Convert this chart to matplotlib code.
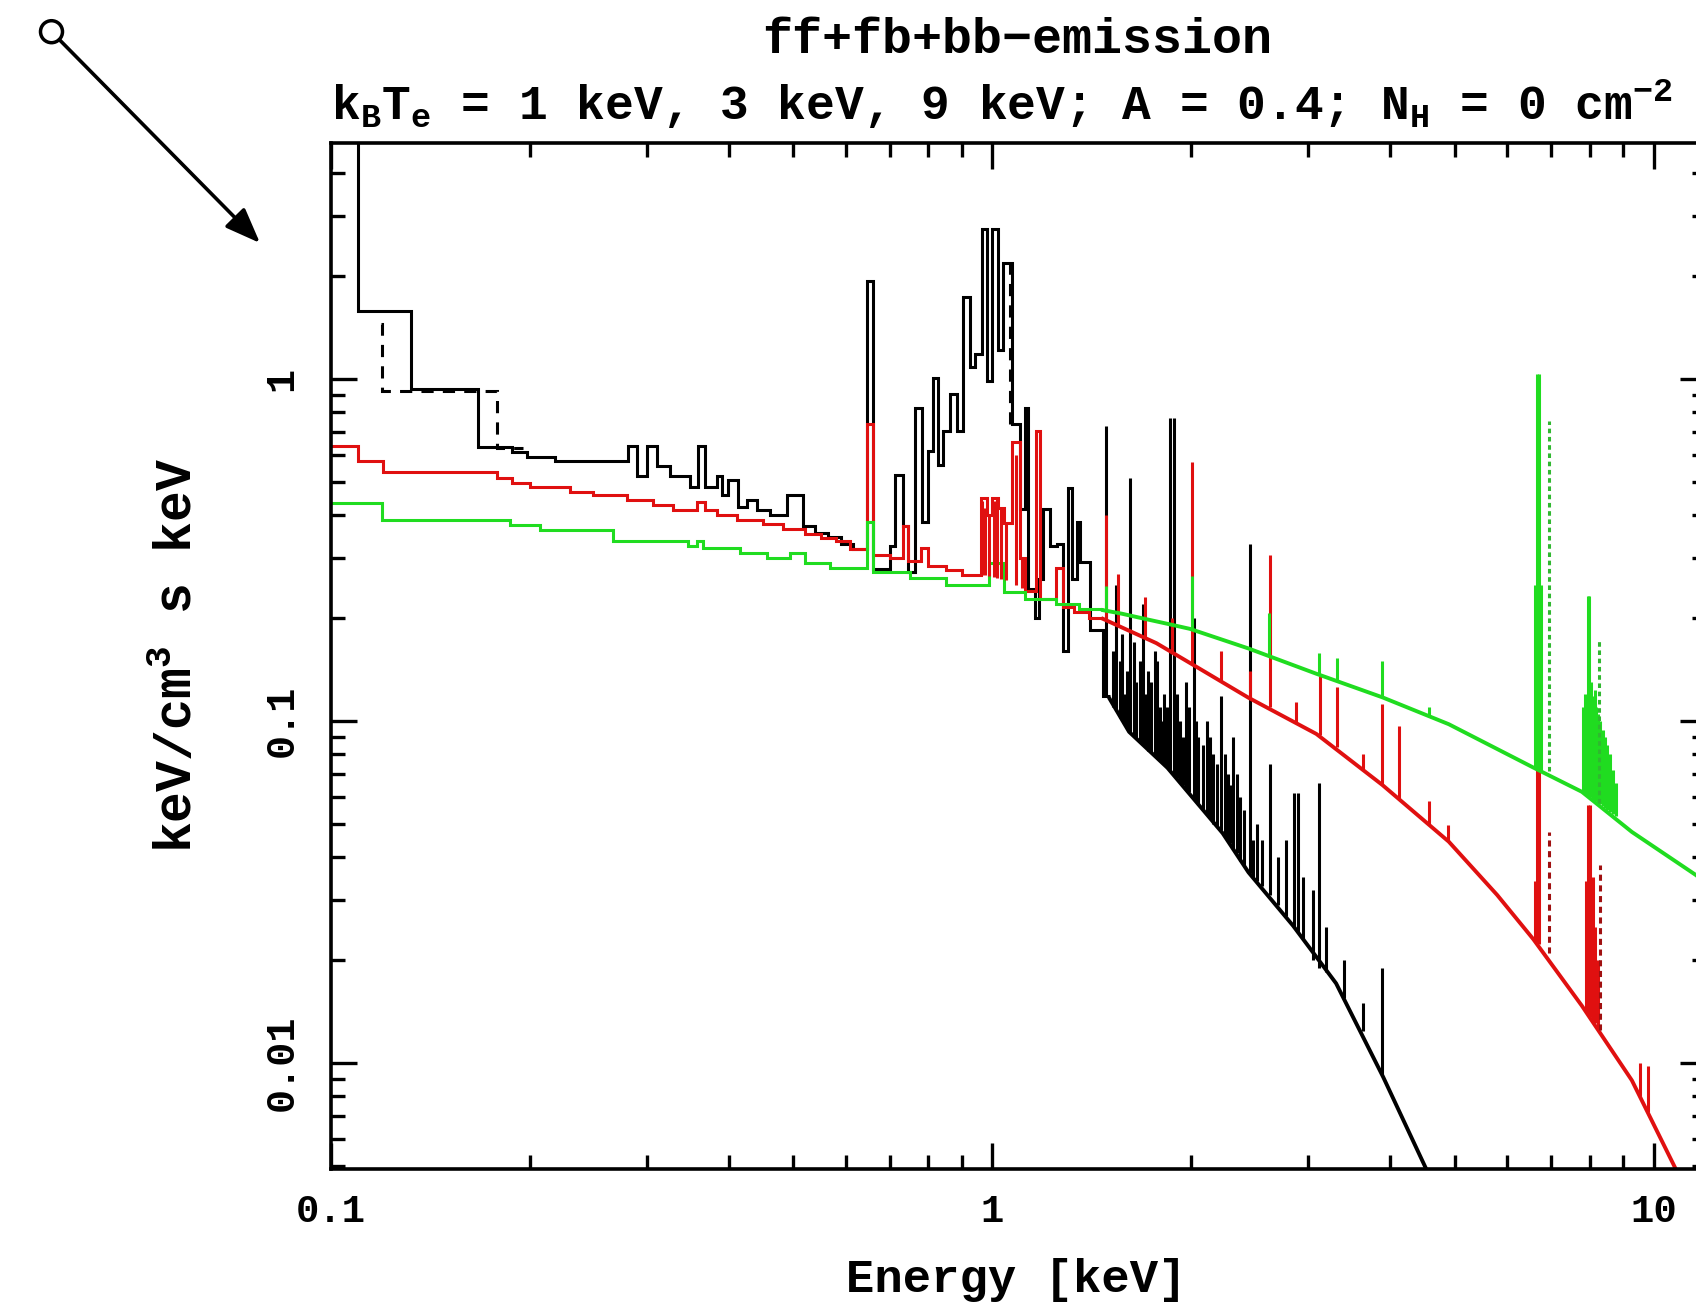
import matplotlib
matplotlib.use("Agg")
import matplotlib.pyplot as plt
from matplotlib.patches import Ellipse
from matplotlib.transforms import IdentityTransform
from matplotlib.ticker import FixedLocator, FixedFormatter, LogLocator, NullFormatter

plt.rcParams['font.family'] = ['Liberation Mono', 'DejaVu Sans Mono']
plt.rcParams['font.weight'] = 'bold'
plt.rcParams['mathtext.default'] = 'regular'

# ---------------- data: energy [keV], flux [keV/cm^3 s keV] ----------------
x_ticks = [0.1, 1, 10]
x_labels = ["0.1", "1", "10"]
y_ticks = [0.01, 0.1, 1]
y_labels = ["0.01", "0.1", "1"]

# kT = 1 keV (black): binned part
black_bin_e = [0.100, 0.1099, 0.1321, 0.1668, 0.1878, 0.1979, 0.2182, 0.2813, 0.2902, 0.3005,
               0.3111, 0.3254, 0.3489, 0.3587, 0.3676, 0.3832, 0.3901, 0.3983, 0.4124, 0.4255,
               0.4406, 0.4610, 0.4891, 0.5171, 0.540, 0.565, 0.590, 0.615, 0.6461, 0.6597,
               0.6998, 0.7123, 0.7323, 0.7451, 0.7633, 0.7823, 0.7989, 0.8130, 0.8272, 0.8418,
               0.8625, 0.8837, 0.9023, 0.9247, 0.9408, 0.9641, 0.9811, 0.9982, 1.0193, 1.0373,
               1.0703, 1.1005, 1.1199, 1.1317, 1.160, 1.175, 1.1921, 1.2216, 1.2517, 1.2782,
               1.3006, 1.3190, 1.3421, 1.3561, 1.4042, 1.4693, 1.5053]
black_bin_f = [8.0, 1.58, 0.934, 0.631, 0.613, 0.593, 0.574, 0.636, 0.519, 0.636,
               0.555, 0.519, 0.484, 0.636, 0.484, 0.519, 0.458, 0.507, 0.423, 0.443,
               0.414, 0.400, 0.458, 0.372, 0.355, 0.345, 0.330, 0.318, 1.929, 0.278,
               0.326, 0.525, 0.373, 0.272, 0.825, 0.382, 0.614, 1.01, 0.562, 0.704,
               0.903, 0.704, 1.742, 1.083, 1.185, 2.738, 0.989, 2.738, 1.212, 2.184,
               0.737, 0.418, 0.825, 0.243, 0.200, 0.260, 0.418, 0.326, 0.330, 0.160,
               0.479, 0.261, 0.382, 0.291, 0.185, 0.118]
black_cont_e = [1.5053, 1.61, 1.84, 1.99, 2.23, 2.44, 2.85, 3.31, 3.90, 4.53, 4.80]
black_cont_f = [0.116, 0.093, 0.073, 0.061, 0.047, 0.0361, 0.0252, 0.0171, 0.0091, 0.0049, 0.0039]
black_line_e = [1.487, 1.54, 1.56, 1.58, 1.617, 1.65, 1.69, 1.72, 1.76, 1.79, 1.82, 1.855, 1.885,
                1.92, 1.96, 2.015, 2.05, 2.11, 2.16, 2.215, 2.27, 2.315, 2.37, 2.45, 2.51,
                2.627, 2.86, 2.90, 3.05, 3.12, 3.64, 3.89]
black_line_lo = [0.118, 0.107, 0.102, 0.098, 0.092, 0.089, 0.085, 0.082, 0.079, 0.077, 0.075, 0.072,
                 0.069, 0.066, 0.063, 0.059, 0.057, 0.053, 0.050, 0.048, 0.045, 0.042, 0.039, 0.036,
                 0.034, 0.031, 0.025, 0.024, 0.020, 0.019, 0.0124, 0.0092]
black_line_hi = [0.727, 0.25, 0.15, 0.12, 0.514, 0.13, 0.22, 0.14, 0.16, 0.11, 0.12, 0.771, 0.771,
                 0.10, 0.13, 0.20, 0.09, 0.10, 0.08, 0.118, 0.07, 0.09, 0.06, 0.33, 0.05,
                 0.075, 0.0617, 0.0617, 0.032, 0.066, 0.015, 0.019]
# weaker lines filling the 1.5-3.4 keV forest
black_forest_e = [1.52, 1.57, 1.60, 1.635, 1.67, 1.705, 1.74, 1.775, 1.805, 1.84, 1.90, 1.94,
                  1.98, 2.03, 2.08, 2.135, 2.19, 2.245, 2.29, 2.345, 2.40, 2.48, 2.56, 2.70,
                  2.78, 2.95, 3.20, 3.40]
black_forest_lo = [0.110, 0.100, 0.095, 0.091, 0.087, 0.084, 0.081, 0.078, 0.076, 0.073, 0.068,
                   0.065, 0.062, 0.058, 0.055, 0.052, 0.049, 0.046, 0.044, 0.041, 0.038, 0.035,
                   0.033, 0.029, 0.027, 0.023, 0.0185, 0.0155]
black_forest_hi = [0.16, 0.18, 0.14, 0.17, 0.15, 0.12, 0.13, 0.15, 0.10, 0.11, 0.12, 0.09,
                   0.11, 0.10, 0.085, 0.09, 0.075, 0.08, 0.065, 0.07, 0.055, 0.045, 0.045,
                   0.04, 0.045, 0.035, 0.025, 0.02]
black_dash_e = [0.1190, 0.1194, 0.1782, 0.1950]
black_dash_f = [1.45, 0.92, 0.63]

# kT = 3 keV (red)
red_bin_e = [0.100, 0.1099, 0.1198, 0.1782, 0.1878, 0.1999, 0.2298, 0.2489, 0.2803, 0.3068,
             0.3289, 0.3575, 0.3676, 0.3832, 0.4110, 0.4498, 0.4824, 0.520, 0.550, 0.580,
             0.610, 0.6461, 0.6597, 0.700, 0.7323, 0.7451, 0.780, 0.800, 0.850, 0.900,
             0.960, 0.980, 1.000, 1.020, 1.040, 1.070, 1.100, 1.120, 1.165, 1.180,
             1.250, 1.280, 1.330, 1.400, 1.470]
red_bin_f = [0.636, 0.574, 0.536, 0.513, 0.496, 0.485, 0.468, 0.458, 0.443, 0.428,
             0.414, 0.438, 0.414, 0.400, 0.387, 0.378, 0.365, 0.352, 0.343, 0.335,
             0.318, 0.737, 0.306, 0.300, 0.373, 0.293, 0.320, 0.284, 0.277, 0.268,
             0.449, 0.400, 0.449, 0.420, 0.380, 0.656, 0.300, 0.240, 0.703, 0.228,
             0.280, 0.216, 0.208, 0.200]
red_cont_e = [1.47, 1.77, 2.00, 2.44, 3.09, 3.89, 4.90, 5.80, 6.58, 7.79, 9.27, 10.8, 12.0]
red_cont_f = [0.199, 0.169, 0.147, 0.117, 0.0917, 0.065, 0.0444, 0.031, 0.0230, 0.0147, 0.0089,
              0.0049, 0.0032]
red_line_e = [0.965, 0.975, 0.99, 1.005, 1.015, 1.03, 1.05, 1.085, 1.11,
              1.485, 1.55, 1.70, 1.87, 2.005, 2.215, 2.45, 2.627, 2.88, 3.125, 3.32, 3.64, 3.89,
              4.12, 4.58, 4.88, 6.62, 6.655, 6.72, 7.90, 7.95, 8.00, 8.05, 8.10, 8.15, 8.25,
              9.55, 9.80]
red_line_lo = [0.268, 0.268, 0.266, 0.264, 0.262, 0.260, 0.258, 0.250, 0.245,
               0.197, 0.189, 0.176, 0.160, 0.147, 0.131, 0.117, 0.110, 0.099, 0.091, 0.084, 0.072,
               0.065, 0.059, 0.050, 0.0447, 0.0228, 0.0226, 0.0223, 0.0143, 0.0140, 0.0138,
               0.0136, 0.0133, 0.0131, 0.0127, 0.0080, 0.0072]
red_line_hi = [0.44, 0.42, 0.40, 0.44, 0.45, 0.42, 0.38, 0.60, 0.30,
               0.40, 0.27, 0.23, 0.20, 0.573, 0.16, 0.14, 0.305, 0.114, 0.135, 0.126, 0.080,
               0.112, 0.097, 0.0584, 0.0497, 0.034, 0.080, 0.080, 0.034, 0.057, 0.057,
               0.030, 0.035, 0.025, 0.020, 0.010, 0.0098]
red_dash_e = [6.95, 8.30]
red_dash_lo = [0.021, 0.0125]
red_dash_hi = [0.0474, 0.038]

# kT = 9 keV (green)
green_bin_e = [0.100, 0.1194, 0.1865, 0.2070, 0.2669, 0.3465, 0.3575, 0.3650, 0.4153, 0.4562,
               0.4942, 0.520, 0.5675, 0.6461, 0.6597, 0.750, 0.850, 0.990, 1.040, 1.120,
               1.250, 1.350, 1.470]
green_bin_f = [0.433, 0.387, 0.374, 0.361, 0.337, 0.326, 0.335, 0.320, 0.309, 0.299,
               0.310, 0.290, 0.281, 0.382, 0.272, 0.262, 0.250, 0.290, 0.238, 0.228,
               0.220, 0.212]
green_cont_e = [1.47, 1.57, 1.70, 1.85, 1.99, 2.44, 3.09, 3.89, 4.90, 6.58, 7.79, 9.27, 11.6, 12.0]
green_cont_f = [0.211, 0.206, 0.199, 0.192, 0.186, 0.163, 0.1375, 0.1173, 0.0979, 0.0731, 0.0621,
                0.0474, 0.0354, 0.0335]
green_line_e = [1.485, 2.005, 2.62, 3.12, 3.32, 3.89, 4.58, 6.62, 6.655, 6.72, 6.76,
                7.82, 7.87, 7.95, 7.99, 8.04, 8.09, 8.14, 8.19, 8.25, 8.31, 8.37, 8.44,
                8.51, 8.59, 8.67, 8.76]
green_line_lo = [0.210, 0.185, 0.156, 0.137, 0.131, 0.117, 0.103, 0.0728, 0.0726, 0.0723, 0.0720,
                 0.0618, 0.0612, 0.0605, 0.0602, 0.0598, 0.0593, 0.0588, 0.0583, 0.0577, 0.0571,
                 0.0565, 0.0558, 0.0551, 0.0543, 0.0535, 0.0527]
green_line_hi = [0.249, 0.266, 0.207, 0.158, 0.153, 0.150, 0.110, 0.25, 1.034, 1.034, 0.25,
                 0.11, 0.12, 0.232, 0.232, 0.13, 0.118, 0.123, 0.11, 0.105, 0.10,
                 0.094, 0.09, 0.085, 0.08, 0.072, 0.066]
green_dot_e = [6.95, 8.28]
green_dot_lo = [0.0715, 0.0574]
green_dot_hi = [0.753, 0.175]

BLACK = "#000000"
RED = "#e01010"
DARKRED = "#a01010"
GREEN = "#20dc20"
DOTGREEN = "#30b830"
LW = 2.2
LWC = 2.8

# ---------------- figure ----------------
W, H = 1696, 1309
fig = plt.figure(figsize=(W / 100, H / 100), dpi=100)
ax = fig.add_axes([331 / W, 1 - 1169 / H, (1706 - 331) / W, (1169 - 143) / H])
ax.set_xscale("log")
ax.set_yscale("log")

# 1 keV
ax.stairs(black_bin_f, black_bin_e, color=BLACK, lw=LW, baseline=None)
ax.plot(black_cont_e, black_cont_f, color=BLACK, lw=LWC)
ax.vlines(black_line_e, black_line_lo, black_line_hi, color=BLACK, lw=LW)
ax.vlines(black_forest_e, black_forest_lo, black_forest_hi, color=BLACK, lw=LW)
ax.stairs(black_dash_f, black_dash_e, color=BLACK, lw=LW, baseline=None, linestyle=(0, (4, 3)))
ax.vlines([1.062], [0.74], [2.2], color=BLACK, lw=LW, linestyle=(0, (4, 3)))

# 3 keV
ax.stairs(red_bin_f, red_bin_e, color=RED, lw=LW, baseline=None)
ax.plot(red_cont_e, red_cont_f, color=RED, lw=LWC)
ax.vlines(red_line_e, red_line_lo, red_line_hi, color=RED, lw=LW)
ax.vlines(red_dash_e, red_dash_lo, red_dash_hi, color=DARKRED, lw=LW, linestyle=(0, (2, 1.5)))

# 9 keV
ax.stairs(green_bin_f, green_bin_e, color=GREEN, lw=LW, baseline=None)
ax.plot(green_cont_e, green_cont_f, color=GREEN, lw=LWC)
ax.vlines(green_line_e, green_line_lo, green_line_hi, color=GREEN, lw=LW)
ax.vlines(green_dot_e, green_dot_lo, green_dot_hi, color=DOTGREEN, lw=LW, linestyle=(0, (1.5, 1.2)))

ax.set_xlim(0.1, 12.0)
ax.set_ylim(0.0049, 4.9)

ax.xaxis.set_major_locator(FixedLocator(x_ticks))
ax.xaxis.set_major_formatter(FixedFormatter(x_labels))
ax.yaxis.set_major_locator(FixedLocator(y_ticks))
ax.yaxis.set_major_formatter(FixedFormatter(y_labels))
ax.xaxis.set_minor_locator(LogLocator(base=10, subs=range(2, 10), numticks=20))
ax.yaxis.set_minor_locator(LogLocator(base=10, subs=range(2, 10), numticks=20))
ax.xaxis.set_minor_formatter(NullFormatter())
ax.yaxis.set_minor_formatter(NullFormatter())

ax.tick_params(which="both", direction="in", top=True, right=True, width=2.4, color="black")
ax.tick_params(which="major", length=19)
ax.tick_params(which="minor", length=10)
ax.tick_params(axis="x", which="major", labelsize=28, pad=18)
ax.tick_params(axis="y", which="major", labelsize=29, pad=22, labelrotation=90)
for lab in ax.get_yticklabels():
    lab.set_verticalalignment("center")
for sp in ax.spines.values():
    sp.set_linewidth(2.6)

# titles and labels
fig.text(1017 / W, 1 - 53 / H, "ff+fb+bb\u2212emission", ha="center", va="baseline", fontsize=36)
fig.text(331 / W, 1 - 120 / H,
         r"k$_{\mathregular{B}}$T$_{\mathregular{e}}$ = 1 keV, 3 keV, 9 keV; A = 0.4; "
         r"N$_{\mathregular{H}}$ = 0 cm$^{\mathregular{-2}}$",
         ha="left", va="baseline", fontsize=34.5)
fig.text(1016 / W, 1 - 1292 / H, "Energy [keV]", ha="center", va="baseline", fontsize=34)
fig.text(178 / W, 1 - 655 / H, r"keV/cm$^{\mathregular{3}}$ s keV", ha="center", va="center",
         rotation=90, fontsize=37)

# pointer arrow in the top-left corner
fig.add_artist(Ellipse((51.5, H - 31.7), 22, 22, fill=False, lw=2.5, ec="black",
                       transform=IdentityTransform()))
ax.annotate("", xy=(260, H - 243), xytext=(51.5, H - 31.7),
            xycoords="figure pixels", textcoords="figure pixels", annotation_clip=False,
            arrowprops=dict(arrowstyle="-|>,head_length=0.9,head_width=0.35", lw=2.6,
                            color="black", shrinkA=8, shrinkB=0, mutation_scale=24))

fig.savefig("out.png", dpi=100)
